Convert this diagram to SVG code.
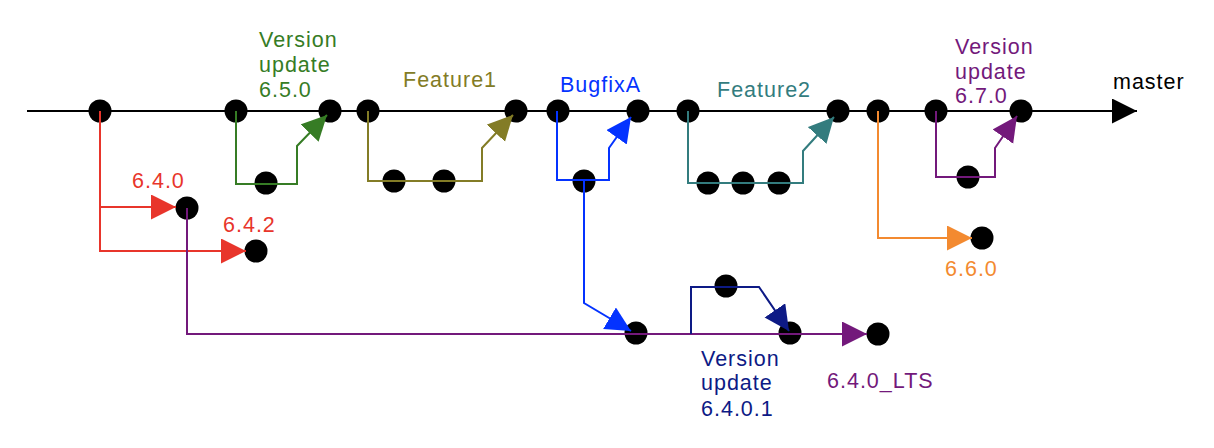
<svg xmlns="http://www.w3.org/2000/svg" width="1214" height="448" viewBox="0 0 1214 448">
<style>
.bg{fill:#ffffff}
.n{fill:#000000}
.c{fill:none;stroke-width:2;stroke-linejoin:miter}
text{font-family:"Liberation Sans",Arial,sans-serif;font-size:21.5px;letter-spacing:1px}
.k{stroke:#000000}.tk{fill:#000000}
.r{stroke:#e8352b}.tr{fill:#e8352b}
.g{stroke:#367c25}.tg{fill:#367c25}
.o{stroke:#837c26}.to{fill:#837c26}
.b{stroke:#0433ff}.tb{fill:#0433ff}
.t{stroke:#337c7e}.tt{fill:#337c7e}
.p{stroke:#73197b}.tp{fill:#73197b}
.or{stroke:#f38a30}.tor{fill:#f38a30}
.nv{stroke:#0d1a85}.tnv{fill:#0d1a85}
</style>
<defs>
<marker id="aK" markerUnits="userSpaceOnUse" markerWidth="26" markerHeight="26" refX="25" refY="12.5" orient="auto"><path d="M0,0 L25,12.5 L0,25 z" fill="#000000"/></marker>
<marker id="aR" markerUnits="userSpaceOnUse" markerWidth="26" markerHeight="26" refX="25" refY="12.5" orient="auto"><path d="M0,0 L25,12.5 L0,25 z" fill="#e8352b"/></marker>
<marker id="aG" markerUnits="userSpaceOnUse" markerWidth="26" markerHeight="26" refX="25" refY="12.5" orient="auto"><path d="M0,0 L25,12.5 L0,25 z" fill="#367c25"/></marker>
<marker id="aO" markerUnits="userSpaceOnUse" markerWidth="26" markerHeight="26" refX="25" refY="12.5" orient="auto"><path d="M0,0 L25,12.5 L0,25 z" fill="#837c26"/></marker>
<marker id="aB" markerUnits="userSpaceOnUse" markerWidth="26" markerHeight="26" refX="25" refY="12.5" orient="auto"><path d="M0,0 L25,12.5 L0,25 z" fill="#0433ff"/></marker>
<marker id="aT" markerUnits="userSpaceOnUse" markerWidth="26" markerHeight="26" refX="25" refY="12.5" orient="auto"><path d="M0,0 L25,12.5 L0,25 z" fill="#337c7e"/></marker>
<marker id="aP" markerUnits="userSpaceOnUse" markerWidth="26" markerHeight="26" refX="25" refY="12.5" orient="auto"><path d="M0,0 L25,12.5 L0,25 z" fill="#73197b"/></marker>
<marker id="aOr" markerUnits="userSpaceOnUse" markerWidth="26" markerHeight="26" refX="25" refY="12.5" orient="auto"><path d="M0,0 L25,12.5 L0,25 z" fill="#f38a30"/></marker>
<marker id="aNv" markerUnits="userSpaceOnUse" markerWidth="26" markerHeight="26" refX="25" refY="12.5" orient="auto"><path d="M0,0 L25,12.5 L0,25 z" fill="#0d1a85"/></marker>
</defs>
<rect class="bg" x="0" y="0" width="1214" height="448"/>

<g id="nodes">
<g id="m1"><circle class="n" cx="100" cy="111" r="11.5"/></g>
<g id="m2"><circle class="n" cx="236" cy="111" r="11.5"/></g>
<g id="m3"><circle class="n" cx="330" cy="111" r="11.5"/></g>
<g id="m4"><circle class="n" cx="368" cy="111" r="11.5"/></g>
<g id="m5"><circle class="n" cx="516" cy="111" r="11.5"/></g>
<g id="m6"><circle class="n" cx="558" cy="111" r="11.5"/></g>
<g id="m7"><circle class="n" cx="638" cy="111" r="11.5"/></g>
<g id="m8"><circle class="n" cx="688" cy="111" r="11.5"/></g>
<g id="m9"><circle class="n" cx="838" cy="111" r="11.5"/></g>
<g id="m10"><circle class="n" cx="878" cy="111" r="11.5"/></g>
<g id="m11"><circle class="n" cx="936" cy="111" r="11.5"/></g>
<g id="m12"><circle class="n" cx="1021" cy="111" r="11.5"/></g>
<g id="g1"><circle class="n" cx="266" cy="183" r="11.5"/></g>
<g id="f1a"><circle class="n" cx="394" cy="181" r="11.5"/></g>
<g id="f1b"><circle class="n" cx="444" cy="181" r="11.5"/></g>
<g id="bf1"><circle class="n" cx="584" cy="181" r="11.5"/></g>
<g id="f2a"><circle class="n" cx="708" cy="183" r="11.5"/></g>
<g id="f2b"><circle class="n" cx="743" cy="183" r="11.5"/></g>
<g id="f2c"><circle class="n" cx="779" cy="183" r="11.5"/></g>
<g id="v67"><circle class="n" cx="968" cy="177" r="11.5"/></g>
<g id="n640"><circle class="n" cx="187" cy="208" r="11.5"/></g>
<g id="n642"><circle class="n" cx="256" cy="251" r="11.5"/></g>
<g id="n660"><circle class="n" cx="982" cy="238" r="11.5"/></g>
<g id="lts1"><circle class="n" cx="636" cy="333" r="11.5"/></g>
<g id="lts2"><circle class="n" cx="726" cy="286" r="11.5"/></g>
<g id="lts3"><circle class="n" cx="790" cy="333" r="11.5"/></g>
<g id="lts4"><circle class="n" cx="878" cy="334" r="11.5"/></g>
</g>

<g id="connectors">
<path class="c k" d="M27,111 L1137,111" marker-end="url(#aK)"/>
<path class="c r" d="M100,111 L100,207 L176,207" marker-end="url(#aR)"/>
<path class="c r" d="M100,207 L100,251 L246,251" marker-end="url(#aR)"/>
<path class="c g" d="M236,111 L236,184 L297,184 L297,146 L327,115" marker-end="url(#aG)"/>
<path class="c o" d="M368,111 L368,181 L482,181 L482,148 L513,115" marker-end="url(#aO)"/>
<path class="c b" d="M557,111 L557,180 L609,180 L609,148 L631,117" marker-end="url(#aB)"/>
<path class="c b" d="M584,181 L584,303 L631,331" marker-end="url(#aB)"/>
<path class="c t" d="M688,111 L688,183 L803,183 L803,151 L834,117" marker-end="url(#aT)"/>
<path class="c or" d="M878,111 L878,238 L972,238" marker-end="url(#aOr)"/>
<path class="c p" d="M936,111 L936,177 L995,177 L995,148 L1017,116" marker-end="url(#aP)"/>
<path class="c p" d="M187,208 L187,334 L867,334" marker-end="url(#aP)"/>
<path class="c nv" d="M691,334 L691,287 L759,287 L789,331" marker-end="url(#aNv)"/>
</g>

<g id="labels">
<text class="tg" x="259" y="47">Version</text>
<text class="tg" x="259" y="72">update</text>
<text class="tg" x="259" y="97">6.5.0</text>
<text class="to" x="403" y="87">Feature1</text>
<text class="tb" x="560" y="92">BugfixA</text>
<text class="tt" x="717" y="97">Feature2</text>
<text class="tp" x="955" y="54">Version</text>
<text class="tp" x="955" y="79">update</text>
<text class="tp" x="955" y="103">6.7.0</text>
<text class="tk" x="1113" y="89">master</text>
<text class="tr" x="132" y="188">6.4.0</text>
<text class="tr" x="223" y="232">6.4.2</text>
<text class="tor" x="945" y="276">6.6.0</text>
<text class="tnv" x="701" y="366">Version</text>
<text class="tnv" x="701" y="390">update</text>
<text class="tnv" x="701" y="416">6.4.0.1</text>
<text class="tp" x="827" y="388">6.4.0_LTS</text>
</g>
</svg>
